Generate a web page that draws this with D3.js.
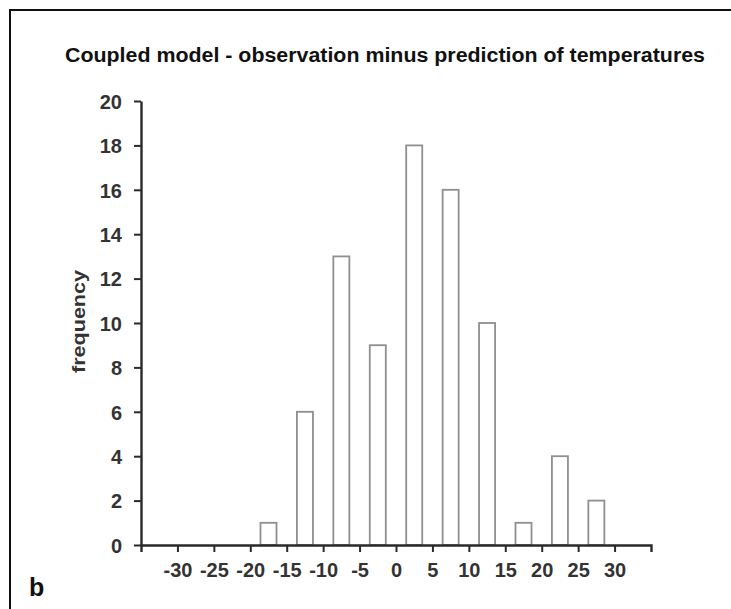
<!DOCTYPE html>
<html>
<head>
<meta charset="utf-8">
<script src="https://cdn.jsdelivr.net/npm/d3@7"></script>
<style>
  html, body { margin: 0; padding: 0; background: #fff; overflow: hidden; }
  svg { display: block; }
</style>
</head>
<body>
<svg id="chart" width="731" height="609"></svg>
<script>
// Histogram bins (lower edge of each 5-degree bin) and their counts
const binStarts = [-20, -15, -10, -5, 0, 5, 10, 15, 20, 25];
const frequencies = [1, 6, 13, 9, 18, 16, 10, 1, 4, 2];
const xTickValues = [-30, -25, -20, -15, -10, -5, 0, 5, 10, 15, 20, 25, 30];
const yTickValues = [0, 2, 4, 6, 8, 10, 12, 14, 16, 18, 20];
const binWidth = 5;

const font = "Liberation Sans, Arial, sans-serif";
const svg = d3.select("#chart");

// Panel frame (top and left edges)
svg.append("path")
  .attr("d", "M10,609 L10,10 L731,10")
  .attr("fill", "none")
  .attr("stroke", "#111")
  .attr("stroke-width", 2);

const x = d3.scaleLinear().domain([-35, 35]).range([141, 651]);
const y = d3.scaleLinear().domain([0, 20]).range([545, 101]);

// Title
svg.append("text")
  .attr("x", 65).attr("y", 62)
  .attr("font-family", font)
  .attr("font-size", 20)
  .attr("font-weight", "bold")
  .attr("fill", "#111")
  .attr("textLength", 640)
  .attr("lengthAdjust", "spacingAndGlyphs")
  .text("Coupled model - observation minus prediction of temperatures");

// Bars
const barW = 2.2;
svg.append("g").selectAll("rect")
  .data(binStarts.map((s, i) => ({ mid: s + binWidth / 2, v: frequencies[i] })))
  .join("rect")
  .attr("x", d => x(d.mid - barW / 2))
  .attr("width", d => x(d.mid + barW / 2) - x(d.mid - barW / 2))
  .attr("y", d => y(d.v))
  .attr("height", d => y(0) - y(d.v))
  .attr("fill", "#fff")
  .attr("stroke", "#8f8f8f")
  .attr("stroke-width", 1.8);

// Axes
const yAxis = svg.append("g")
  .attr("transform", `translate(${x(-35)},0)`)
  .call(d3.axisLeft(y).tickValues(yTickValues).tickSize(7).tickPadding(12)
    .tickSizeOuter(0).tickFormat(d => String(d)));
const xAxis = svg.append("g")
  .attr("transform", `translate(0,${y(0)})`)
  .call(d3.axisBottom(x).tickValues(xTickValues).tickSize(7).tickPadding(11)
    .tickSizeOuter(7).tickFormat(d => String(d)));

[yAxis, xAxis].forEach(g => {
  g.attr("font-size", null).attr("font-family", null);
  g.select(".domain").attr("stroke", "#2a2a2a").attr("stroke-width", 2.4);
  g.selectAll(".tick line").attr("stroke", "#2a2a2a").attr("stroke-width", 2);
  g.selectAll(".tick text")
    .attr("font-family", font)
    .attr("font-size", 20)
    .attr("font-weight", "bold")
    .attr("fill", "#333");
});
yAxis.selectAll(".tick text").attr("dy", "0.36em");

// Y axis label
svg.append("text")
  .attr("transform", "translate(85,321.5) rotate(-90)")
  .attr("text-anchor", "middle")
  .attr("font-family", font)
  .attr("font-size", 18)
  .attr("font-weight", "bold")
  .attr("fill", "#333")
  .attr("textLength", 103)
  .attr("lengthAdjust", "spacingAndGlyphs")
  .text("frequency");

// Panel letter
svg.append("text")
  .attr("x", 29).attr("y", 596)
  .attr("font-family", font)
  .attr("font-size", 25)
  .attr("font-weight", "bold")
  .attr("fill", "#111")
  .text("b");
</script>
</body>
</html>
